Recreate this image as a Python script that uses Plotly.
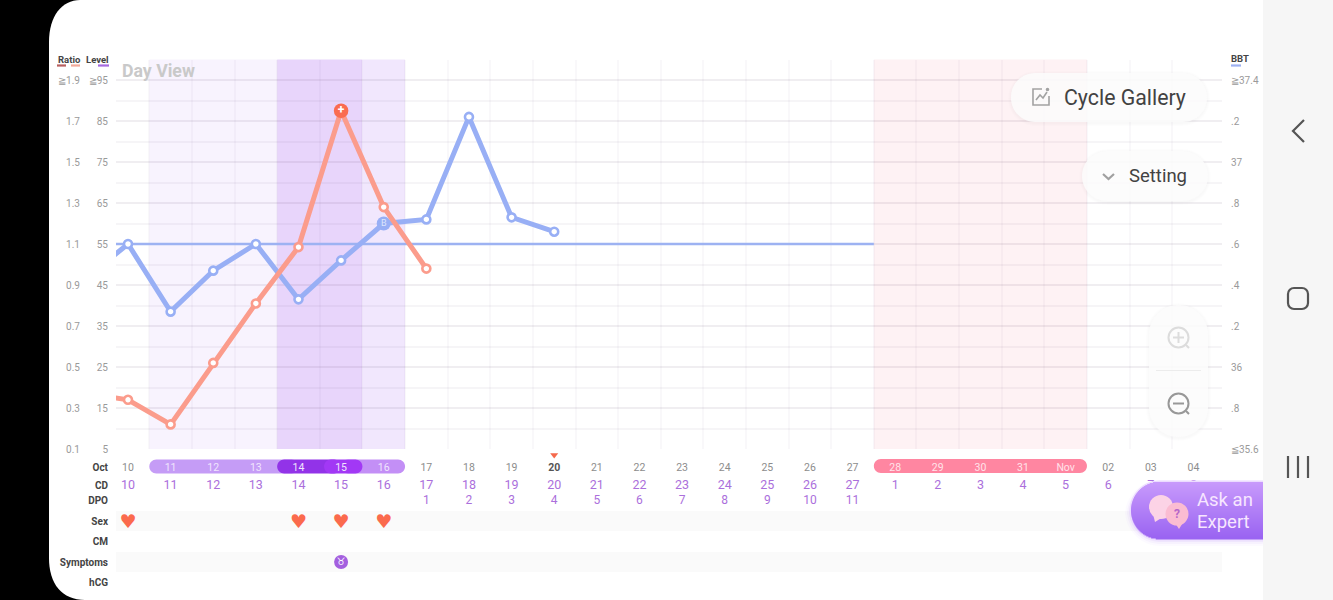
import math
import plotly.graph_objects as go

# ---------- data ----------
days = list(range(10, 36))
oct_labels = ["10","11","12","13","14","15","16","17","18","19","<b>20</b>","21","22","23","24","25","26","27",
              "28","29","30","31","Nov","02","03","04"]
cd_labels = ["10","11","12","13","14","15","16","17","18","19","20","21","22","23","24","25","26","27",
             "1","2","3","4","5","6","7","8"]
dpo_days = [17,18,19,20,21,22,23,24,25,26,27]
dpo_labels = ["1","2","3","4","5","6","7","8","9","10","11"]
ratio_days = [9,10,11,12,13,14,15,16,17]
ratio_values = [0.37,0.34,0.22,0.52,0.81,1.085,1.75,1.28,0.98]
bbt_days = [9,10,11,12,13,14,15,16,17,18,19,20]
bbt_values = [36.43,36.60,36.27,36.47,36.60,36.33,36.52,36.70,36.72,37.22,36.73,36.66]
cover_days = [9, 27.5]
cover_values = [36.6, 36.6]
sex_days = [10,14,15,16]
symptom_days = [15]
peak_day = 15
cover_marker_day = 16
current_day = 20
level_ticks = [5,15,25,35,45,55,65,75,85,95]
level_text = ["5","15","25","35","45","55","65","75","85","≧95"]
ratio_ticks = [0.1,0.3,0.5,0.7,0.9,1.1,1.3,1.5,1.7,1.9]
ratio_text = ["0.1","0.3","0.5","0.7","0.9","1.1","1.3","1.5","1.7","≧1.9"]
bbt_ticks = [35.6,35.8,36.0,36.2,36.4,36.6,36.8,37.0,37.2,37.4]
bbt_text = ["≦35.6",".8","36",".2",".4",".6",".8","37",".2","≧37.4"]
row_names = ["Oct","CD","DPO","Sex","CM","Symptoms","hCG"]
row_pos = [468,486,501,522,542,563,583]

W, H = 1333, 600
L, R, T, B = 116, 1222, 59.5, 449
FONT = "Roboto"
PURPLE_T = "#ab6fdc"
RED = "#fb9c8c"
BLUE = "#98aff5"
GRID_X = "rgba(90,70,110,0.035)"
GRID_MAJOR = "rgba(90,70,110,0.04)"
GRID_MINOR = "rgba(90,70,110,0.055)"
xr = [10 + (L-128)/42.62, 10 + (R-128)/42.62]
px = lambda x: x/W
py = lambda y: 1-y/H

def rr(x0, y0, x1, y1, r, ry=None, fx=lambda v: v, fy=lambda v: v):
    """rounded rectangle path"""
    ry = r if ry is None else ry
    k = 0.45
    pts = [("M", x0+r, y0), ("L", x1-r, y0),
           ("C", x1-r*k, y0, x1, y0+ry*k, x1, y0+ry), ("L", x1, y1-ry),
           ("C", x1, y1-ry*k, x1-r*k, y1, x1-r, y1), ("L", x0+r, y1),
           ("C", x0+r*k, y1, x0, y1-ry*k, x0, y1-ry), ("L", x0, y0+ry),
           ("C", x0, y0+ry*k, x0+r*k, y0, x0+r, y0)]
    out = ""
    for p in pts:
        c = p[1:]
        out += p[0] + " " + " ".join(f"{fx(c[i]):.5f} {fy(c[i+1]):.5f}" for i in range(0, len(c), 2)) + " "
    return out + "Z"

shapes = []
def pshape(path, fill=None, line=None, lw=0, layer="above"):
    shapes.append(dict(type="path", path=path, xref="paper", yref="paper", layer=layer,
                       fillcolor=fill or "rgba(0,0,0,0)", line=dict(color=line or "rgba(0,0,0,0)", width=lw)))
def ppill(x0, y0, x1, y1, r, fill, layer="above", line=None, lw=0):
    pshape(rr(x0, y0, x1, y1, r, fx=px, fy=py), fill, line, lw, layer)
def ppoly(points, line, lw, fill=None, closed=False, layer="above"):
    s = "M " + " L ".join(f"{px(a):.5f} {py(b):.5f}" for a, b in points) + (" Z" if closed else "")
    pshape(s, fill, line, lw, layer)
def pcircle(cx, cy, r, fill=None, line=None, lw=0):
    shapes.append(dict(type="circle", xref="paper", yref="paper", layer="above",
                       x0=px(cx-r), x1=px(cx+r), y0=py(cy+r), y1=py(cy-r),
                       fillcolor=fill or "rgba(0,0,0,0)", line=dict(color=line or "rgba(0,0,0,0)", width=lw)))

# device frame: white screen with round left corners on black, grey nav bar
pshape(f"M {px(1263)} {py(0)} L {px(80)} {py(0)} C {px(62)} {py(0)} {px(49)} {py(16)} {px(49)} {py(42)} "
       f"L {px(49)} {py(558)} C {px(49)} {py(584)} {px(62)} {py(600)} {px(85)} {py(600)} L {px(1263)} {py(600)} Z",
       "#ffffff", layer="below")
pshape(f"M {px(1263)} {py(0)} L {px(1333)} {py(0)} L {px(1333)} {py(600)} L {px(1263)} {py(600)} Z", "#f6f6f6", layer="below")

# phase bands
for d0, d1, c in [(10.5,13.5,"#f8f3fe"),(13.5,15.5,"#e8d5fb"),(15.5,16.5,"#f1e7fd"),(27.5,32.5,"#fef2f4")]:
    shapes.append(dict(type="rect", xref="x", yref="paper", x0=d0, x1=d1, y0=py(B), y1=py(T),
                       fillcolor=c, line=dict(width=0), layer="below"))
# stripes under row labels
for i in (3, 5):
    shapes.append(dict(type="rect", xref="paper", yref="y4", x0=px(L), x1=px(R),
                       y0=row_pos[i]-11, y1=row_pos[i]+9, fillcolor="#fafafa", line=dict(width=0), layer="below"))

# date pills, in day units on x2
def dpill(d0, d1, c, y0=459.5, y1=473.5):
    shapes.append(dict(type="path", xref="x2", yref="y4", layer="between", fillcolor=c, line=dict(width=0),
                       path=rr(d0, y0, d1, y1, 7/42.62, 7)))
dpill(10.5, 14, "#c59cf6")
dpill(15, 16.5, "#c38ff6")
dpill(13.5, 15, "#9233e8")
dpill(14.6, 15.5, "#a238f5")
dpill(27.5, 32.5, "#ff86a1", 459, 473)

# floating buttons (soft shadow + translucent body)
def button(x0, y0, x1, y1, r, fill="rgba(252,252,252,0.88)"):
    for g in (3, 2, 1):
        ppill(x0-g, y0-g+1, x1+g, y1+g+1, r+g, "rgba(0,0,0,0.008)")
    ppill(x0, y0, x1, y1, r, fill)
button(1011, 73, 1207, 122, 24)
button(1082, 151, 1208, 201, 25)
button(1149, 305, 1208, 437, 29)
ppoly([(1156,370.5),(1201,370.5)], "#ececec", 1)

# gallery icon
ppoly([(1042,89),(1033,89),(1033,105),(1049,105),(1049,96)], "#a2a2a2", 1.6)
ppoly([(1036,100),(1040,95),(1043,98),(1047,92)], "#a2a2a2", 1.6)
pcircle(1047.5, 89.5, 1.8, "#a2a2a2")
# setting chevron
ppoly([(1103,174),(1108.5,179),(1114,174)], "#a0a0a0", 2.2)
# zoom icons
pcircle(1178.5, 337.5, 10, None, "#dcdcdc", 2)
ppoly([(1186,345),(1189,348)], "#dcdcdc", 2)
ppoly([(1173,337.5),(1184,337.5)], "#dcdcdc", 2)
ppoly([(1178.5,332),(1178.5,343)], "#dcdcdc", 2)
pcircle(1178.5, 403.5, 10, None, "#989898", 2)
ppoly([(1186,411),(1189,414)], "#989898", 2)
ppoly([(1173,403.5),(1184,403.5)], "#989898", 2)

# Ask an Expert button with vertical gradient
ax0, ay0, ax1, ay1, ar = 1131, 482, 1263, 539, 28.5
for g, a in ((7,0.03),(5,0.05),(3,0.08),(1,0.12)):
    ppill(ax0-g+1, ay0-g+5, ax1+30, ay1+g, ar+g, f"rgba(150,90,240,{a})")
ppill(ax0-1.5, ay0-1.5, ax1+30, ay1+1.5, ar+1.5, "#ecdcff")
n = 57
for i in range(n):
    y0 = ay0 + (ay1-ay0)*i/n
    y1 = ay0 + (ay1-ay0)*(i+1)/n + 0.5
    ym = (y0+y1)/2
    dx = ar - math.sqrt(max(ar*ar-(ym-(ay0+ar))**2, 0))
    t = i/(n-1)
    c = f"rgb({int(200-46*t)},{int(154-54*t)},{int(252-10*t)})"
    ppoly([(ax0+dx,y0),(ax1,y0),(ax1,y1),(ax0+dx,y1)], None, 0, fill=c, closed=True)
pcircle(1161, 507, 12, "#fcd3e6")
ppoly([(1153,514),(1155,522),(1163,517)], None, 0, fill="#fcd3e6", closed=True)
pcircle(1177, 514, 11.5, "#fbbcd2")
ppoly([(1175,523),(1179,529),(1184,521)], None, 0, fill="#fbbcd2", closed=True)
# nav bar is above the button's right overflow
shapes.append(dict(type="rect", xref="paper", yref="paper", layer="above", x0=px(1263), x1=1, y0=0, y1=1,
                   fillcolor="#f6f6f6", line=dict(width=0)))
# nav icons
ppoly([(1304,120),(1293,131),(1304,142)], "#555555", 2.2)
pshape(rr(1288, 288, 1308, 309, 6, fx=px, fy=py), None, "#555555", 2.2)
for xx in (1288, 1298, 1308):
    ppoly([(xx,456),(xx,478)], "#555555", 2.2)

# ---------- traces ----------
fig = go.Figure()
# carries the Level axis and its grid (no Level reading is logged on this chart)
fig.add_trace(go.Scatter(x=[10], y=[5], yaxis="y", mode="markers", marker=dict(size=1, opacity=0), hoverinfo="skip"))
fig.add_trace(go.Scatter(x=cover_days, y=cover_values, yaxis="y2", mode="lines",
                         line=dict(color="#9db2f2", width=2.4), hoverinfo="skip"))
fig.add_trace(go.Scatter(x=bbt_days, y=bbt_values, yaxis="y2", mode="lines+markers",
                         line=dict(color=BLUE, width=5),
                         marker=dict(size=8, color="white", line=dict(color=BLUE, width=2.6))))
ci = bbt_days.index(cover_marker_day)
fig.add_trace(go.Scatter(x=[bbt_days[ci]], y=[bbt_values[ci]], yaxis="y2", mode="markers+text",
                         text=["B"], textposition="middle center",
                         textfont=dict(family=FONT, size=9, color="#dfe6fc"),
                         marker=dict(size=14, color=BLUE)))
fig.add_trace(go.Scatter(x=ratio_days, y=ratio_values, yaxis="y3", mode="lines+markers",
                         line=dict(color=RED, width=5),
                         marker=dict(size=8, color="white", line=dict(color=RED, width=2.6))))
pi = ratio_days.index(peak_day)
fig.add_trace(go.Scatter(x=[ratio_days[pi]], y=[ratio_values[pi]], yaxis="y3", mode="markers+text",
                         text=["<b>+</b>"], textposition="middle center",
                         textfont=dict(family=FONT, size=12, color="white"),
                         marker=dict(size=14.5, color="#fa6c50")))
# lower rows
def date_color(d):
    if 11 <= d <= 16: return "#f0e4fd"
    if 28 <= d <= 32: return "#ffe3ea"
    return "#555555" if d == current_day else "#8d8d8d"
fig.add_trace(go.Scatter(x=days, y=[row_pos[0]]*len(days), xaxis="x2", yaxis="y4", mode="text",
                         text=oct_labels, textfont=dict(family=FONT, size=10.5, color=[date_color(d) for d in days])))
fig.add_trace(go.Scatter(x=days, y=[row_pos[1]]*len(days), xaxis="x2", yaxis="y4", mode="text",
                         text=cd_labels, textfont=dict(family=FONT, size=12.5, color=PURPLE_T)))
fig.add_trace(go.Scatter(x=dpo_days, y=[row_pos[2]]*len(dpo_days), xaxis="x2", yaxis="y4", mode="text",
                         text=dpo_labels, textfont=dict(family=FONT, size=12, color=PURPLE_T)))
fig.add_trace(go.Scatter(x=sex_days, y=[row_pos[3]+1]*len(sex_days), xaxis="x2", yaxis="y4", mode="text",
                         text=["♥"]*len(sex_days), textfont=dict(family="DejaVu Sans", size=19, color="#fb6a4d")))
fig.add_trace(go.Scatter(x=symptom_days, y=[row_pos[5]-1], xaxis="x2", yaxis="y4", mode="markers+text",
                         text=["♉"], textposition="middle center",
                         textfont=dict(family="DejaVu Sans", size=10, color="white"),
                         marker=dict(size=14, color="#a45fdf")))
fig.add_trace(go.Scatter(x=[current_day], y=[455], xaxis="x2", yaxis="y4", mode="markers",
                         marker=dict(symbol="triangle-down", size=7, color="#f5694c")))

# ---------- text ----------
ann = []
def note(x, y, text, size, color, anchor="left", family=FONT):
    ann.append(dict(xref="paper", yref="paper", x=px(x), y=py(y), text=text, showarrow=False, xanchor=anchor,
                    yanchor="middle", borderpad=0, borderwidth=0, font=dict(family=family, size=size, color=color)))
note(122, 71, "<b>Day View</b>", 17.7, "#c9c9c9")
note(81, 59.5, "<b>Ratio</b>", 9.5, "#444444", "right")
note(109, 59.5, "<b>Level</b>", 9.5, "#444444", "right")
note(1231, 58.5, "<b>BBT</b>", 9.5, "#444444")
note(1064, 97.5, "Cycle Gallery", 21.3, "#424242")
note(1129, 176, "Setting", 18.5, "#424242")
note(1197, 500, "Ask an", 18.5, "#f7e6ff")
note(1197, 521.5, "Expert", 18.5, "#f7e6ff")
note(1177, 514, "<b>?</b>", 12, "#b665c9", "center")
for a, b, c in [(57,66,"#b85f5f"),(71,80,"#f1a999"),(98,109,"#a66ae0"),(1231,1241,"#9db0f0")]:
    yy = 65.5
    ppoly([(a,yy),(b,yy)], c, 2.2)

fig.update_layout(
    width=W, height=H, autosize=False, showlegend=False, hovermode=False,
    margin=dict(l=0, r=0, t=0, b=0, pad=0, autoexpand=False), paper_bgcolor="#000000", plot_bgcolor="rgba(0,0,0,0)",
    font=dict(family=FONT), shapes=shapes, annotations=ann,
    xaxis=dict(domain=[px(L), px(R)], range=xr, tickmode="array", tickvals=[d+0.5 for d in days[:-1]],
               showticklabels=False, ticks="", showgrid=True, gridcolor=GRID_X, gridwidth=1.5,
               zeroline=False, showline=False, anchor="y"),
    xaxis2=dict(domain=[px(L), px(R)], range=xr, showticklabels=False, ticks="", showgrid=False,
                zeroline=False, showline=False, anchor="y4"),
    yaxis=dict(domain=[py(B), py(T)], range=[5, 100], tickmode="array", tickvals=level_ticks, ticktext=level_text,
               tickfont=dict(family=FONT, size=10, color="#9a9a9a"), ticks="", ticklabelstandoff=7,
               showgrid=True, gridcolor=GRID_MAJOR, gridwidth=1.5, zeroline=False,
               minor=dict(tick0=0, dtick=5, showgrid=True, gridcolor=GRID_MINOR, gridwidth=1.5, ticks=""),
               anchor="x"),
    yaxis2=dict(domain=[py(B), py(T)], range=[35.6, 37.5], overlaying="y", side="right", anchor="free", position=px(R),
                tickmode="array", tickvals=bbt_ticks, ticktext=bbt_text, ticks="", ticklabelstandoff=8,
                tickfont=dict(family=FONT, size=10, color="#9a9a9a"), showgrid=False, zeroline=False),
    yaxis3=dict(domain=[py(B), py(T)], range=[0.1, 2.0], overlaying="y", side="left", anchor="free", position=px(82),
                tickmode="array", tickvals=ratio_ticks, ticktext=ratio_text, ticks="", ticklabelstandoff=2,
                tickfont=dict(family=FONT, size=10, color="#9a9a9a"), showgrid=False, zeroline=False),
    yaxis4=dict(domain=[0, py(B)], range=[600, B], tickmode="array", tickvals=[p-1 for p in row_pos],
                ticktext=[f"<b>{r}</b>" for r in row_names], ticks="", ticklabelstandoff=7,
                tickfont=dict(family=FONT, size=10, color="#444444"), showgrid=False, zeroline=False, anchor="x2"),
)
fig.write_html("out.html", config=dict(displayModeBar=False),
               post_script="document.body.style.margin='0';document.body.style.overflow='hidden';")
